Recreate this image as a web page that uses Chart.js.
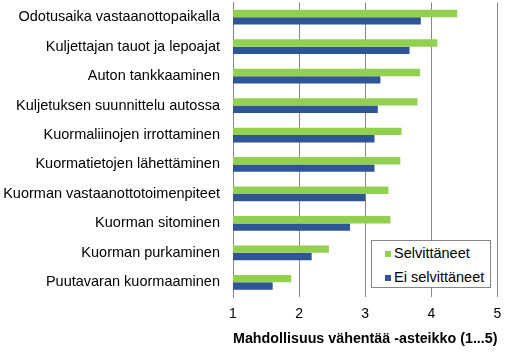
<!DOCTYPE html>
<html>
<head>
<meta charset="utf-8">
<script src="https://cdn.jsdelivr.net/npm/chart.js@4"></script>
<style>
  html, body { margin: 0; padding: 0; background: #fff; }
  #wrap { position: relative; width: 507px; height: 352px; }
  #legend { position: absolute; left: 371px; top: 240px; width: 118px; height: 46px;
    border: 1px solid #868686; background: #fff; font-family: "Liberation Sans", Arial, sans-serif;
    font-size: 14.5px; color: #000; box-sizing: content-box; }
  .item { position: absolute; left: 13px; height: 18px; line-height: 18px; white-space: nowrap; }
  .sw { display: inline-block; width: 6px; height: 6px; margin-right: 3px; vertical-align: 1px; }
</style>
</head>
<body>
<div id="wrap">
  <canvas id="c" width="507" height="352"></canvas>
  <div id="legend"></div>
</div>
<script>
const categories = [
  "Odotusaika vastaanottopaikalla",
  "Kuljettajan tauot ja lepoajat",
  "Auton tankkaaminen",
  "Kuljetuksen suunnittelu autossa",
  "Kuormaliinojen irrottaminen",
  "Kuormatietojen lähettäminen",
  "Kuorman vastaanottotoimenpiteet",
  "Kuorman sitominen",
  "Kuorman purkaminen",
  "Puutavaran kuormaaminen"
];
const selvittaneet = [4.39, 4.09, 3.83, 3.79, 3.55, 3.53, 3.35, 3.38, 2.45, 1.88];
const eiSelvittaneet = [3.84, 3.67, 3.23, 3.19, 3.14, 3.14, 3.00, 2.77, 2.19, 1.60];
const xTicks = [1, 2, 3, 4, 5];
const seriesLabels = ["Selvittäneet", "Ei selvittäneet"];
const seriesColors = ["#92d050", "#2f5597"];
const axisTitle = "Mahdollisuus vähentää -asteikko (1...5)";

const FONT = "'Liberation Sans', Arial, sans-serif";

const chart = new Chart(document.getElementById('c'), {
  type: 'bar',
  data: {
    labels: categories,
    datasets: [
      { label: seriesLabels[0], data: selvittaneet, backgroundColor: seriesColors[0],
        categoryPercentage: 0.5, barPercentage: 1.0 },
      { label: seriesLabels[1], data: eiSelvittaneet, backgroundColor: seriesColors[1],
        categoryPercentage: 0.5, barPercentage: 1.0 }
    ]
  },
  options: {
    indexAxis: 'y',
    responsive: false,
    animation: false,
    devicePixelRatio: 1,
    layout: { padding: 0 },
    plugins: { legend: { display: false }, tooltip: { enabled: false } },
    scales: {
      x: {
        type: 'linear',
        min: xTicks[0],
        max: xTicks[xTicks.length - 1],
        afterBuildTicks: (s) => { s.ticks = xTicks.map(v => ({ value: v })); },
        afterFit: (s) => { s.height = 55; s.paddingLeft = 0; s.paddingRight = 9.5; },
        grid: { color: '#868686', lineWidth: 1, drawTicks: false },
        border: { display: false },
        ticks: { color: '#000', font: { family: FONT, size: 14 }, padding: 9 },
        title: { display: true, text: axisTitle, color: '#000',
          font: { family: FONT, size: 14.8, weight: 'bold' }, padding: { top: 0, bottom: 4 } }
      },
      y: {
        afterFit: (s) => { s.width = 233; s.paddingTop = 2.5; s.paddingBottom = 0; },
        grid: { display: false, drawTicks: false },
        border: { display: true, color: '#868686', width: 1 },
        ticks: { color: '#000', font: { family: FONT, size: 14.5 }, padding: 13 }
      }
    }
  }
});

const leg = document.getElementById('legend');
seriesLabels.forEach((lab, i) => {
  const d = document.createElement('div');
  d.className = 'item';
  d.style.top = (3 + i * 24) + 'px';
  d.innerHTML = '<span class="sw" style="background:' + seriesColors[i] + '"></span>' + lab;
  leg.appendChild(d);
});
</script>
</body>
</html>
